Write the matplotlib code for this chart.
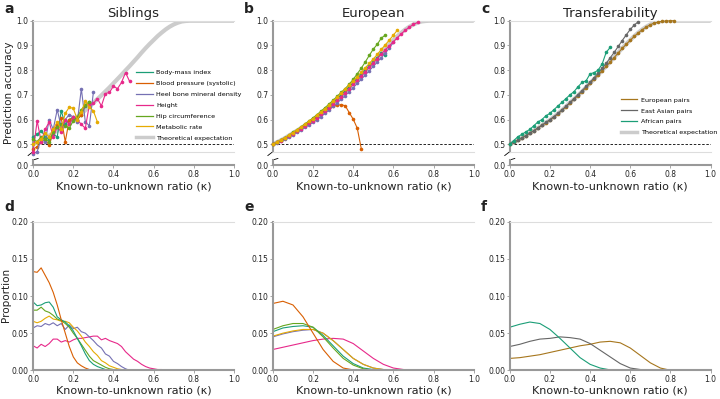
"""Prediction accuracy vs known-to-unknown ratio, with kappa distributions below."""
import numpy as np
import matplotlib
matplotlib.use("Agg")
import matplotlib.pyplot as plt
from matplotlib.lines import Line2D

# ---- data ----
THEORY = [0.500, 0.508, 0.516, 0.525, 0.535, 0.545, 0.555, 0.565, 0.576, 0.587,
          0.598, 0.611, 0.624, 0.638, 0.653, 0.668, 0.683, 0.698, 0.714, 0.730,
          0.747, 0.764, 0.781, 0.799, 0.816, 0.834, 0.852, 0.871, 0.889, 0.906,
          0.922, 0.938, 0.952, 0.965, 0.976, 0.985, 0.992, 0.997, 0.999, 1.0,
          1.0, 1.0, 1.0, 1.0, 1.0, 1.0, 1.0, 1.0, 1.0, 1.0, 1.0]

TRAITS = ["Body-mass index", "Blood pressure (systolic)", "Heel bone mineral density",
          "Height", "Hip circumference", "Metabolic rate"]
TRAIT_COLORS = ["#1b9e77", "#d95f02", "#7570b3", "#e7298a", "#66a61e", "#e6ab02"]

# panel a: siblings, kappa step 0.02
SIB_BMI = [0.53, 0.54, 0.555, 0.53, 0.52, 0.54, 0.53, 0.635, 0.58, 0.60, 0.61, 0.60, 0.62, 0.655, 0.67]
SIB_BP = [0.48, 0.49, 0.51, 0.52, 0.495, 0.55, 0.58, 0.605, 0.51, 0.60, 0.605, 0.60, 0.62, 0.66, 0.665]
SIB_HEEL = [0.46, 0.47, 0.52, 0.51, 0.60, 0.56, 0.64, 0.57, 0.60, 0.62, 0.61, 0.59, 0.725, 0.59, 0.575, 0.71]
SIB_HEIGHT = [0.47, 0.595, 0.51, 0.56, 0.59, 0.53, 0.57, 0.55, 0.60, 0.58, 0.61, 0.60, 0.58,
              0.565, 0.66, 0.665, 0.685, 0.655, 0.705, 0.71, 0.735, 0.725, 0.75, 0.79, 0.755]
SIB_HIP = [0.52, 0.51, 0.53, 0.52, 0.51, 0.55, 0.57, 0.58, 0.575, 0.565, 0.595, 0.61, 0.64, 0.66, 0.67]
SIB_MET = [0.50, 0.51, 0.52, 0.545, 0.53, 0.56, 0.59, 0.56, 0.625, 0.65, 0.645, 0.60, 0.63,
           0.675, 0.65, 0.635, 0.59]

# panel b: European, kappa step 0.02
EUR_BMI = [0.500, 0.508, 0.516, 0.525, 0.535, 0.545, 0.555, 0.566, 0.577, 0.588, 0.600, 0.612,
           0.625, 0.639, 0.654, 0.669, 0.684, 0.700, 0.716, 0.732, 0.749, 0.766, 0.783, 0.800,
           0.817, 0.832, 0.850, 0.870, 0.860]
EUR_BP = [0.500, 0.508, 0.516, 0.525, 0.535, 0.545, 0.555, 0.565, 0.576, 0.587, 0.598, 0.610,
          0.622, 0.634, 0.645, 0.653, 0.658, 0.660, 0.656, 0.628, 0.601, 0.565, 0.482]
EUR_HEEL = [0.500, 0.506, 0.513, 0.521, 0.530, 0.539, 0.548, 0.558, 0.568, 0.578, 0.589, 0.600,
            0.612, 0.625, 0.639, 0.653, 0.667, 0.682, 0.697, 0.713, 0.729, 0.746, 0.763, 0.780,
            0.798, 0.815, 0.833, 0.851, 0.869, 0.890, 0.912]
EUR_HEIGHT = [0.500, 0.507, 0.515, 0.524, 0.533, 0.543, 0.553, 0.563, 0.574, 0.585, 0.596, 0.608,
              0.621, 0.634, 0.648, 0.663, 0.678, 0.693, 0.709, 0.725, 0.742, 0.759, 0.776, 0.794,
              0.811, 0.829, 0.847, 0.865, 0.883, 0.899, 0.915, 0.932, 0.948, 0.962, 0.975, 0.985,
              0.993]
EUR_HIP = [0.500, 0.508, 0.517, 0.527, 0.537, 0.548, 0.559, 0.570, 0.582, 0.594, 0.607, 0.620,
           0.634, 0.648, 0.663, 0.678, 0.694, 0.710, 0.725, 0.743, 0.763, 0.785, 0.808, 0.833,
           0.860, 0.885, 0.905, 0.930, 0.942]
EUR_MET = [0.500, 0.509, 0.518, 0.527, 0.537, 0.547, 0.558, 0.569, 0.580, 0.592, 0.604, 0.617,
           0.630, 0.644, 0.659, 0.674, 0.690, 0.706, 0.722, 0.739, 0.756, 0.773, 0.791, 0.809,
           0.827, 0.845, 0.864, 0.884, 0.903, 0.922, 0.942, 0.962]

# panel c: transferability, kappa step 0.02
POPS = ["European pairs", "East Asian pairs", "African pairs"]
POP_COLORS = ["#a6761d", "#666666", "#1b9e77"]
TR_EUR = [0.500, 0.508, 0.516, 0.525, 0.535, 0.545, 0.555, 0.565, 0.576, 0.587, 0.598, 0.610,
          0.623, 0.637, 0.652, 0.667, 0.682, 0.697, 0.713, 0.729, 0.746, 0.763, 0.780, 0.798,
          0.815, 0.833, 0.851, 0.870, 0.888, 0.905, 0.921, 0.937, 0.951, 0.964, 0.975, 0.984,
          0.991, 0.995, 0.998, 0.999, 1.0, 1.0]
TR_EAS = [0.500, 0.508, 0.516, 0.525, 0.535, 0.545, 0.555, 0.566, 0.577, 0.588, 0.600, 0.612,
          0.625, 0.639, 0.654, 0.669, 0.685, 0.701, 0.717, 0.734, 0.751, 0.769, 0.788, 0.808,
          0.828, 0.850, 0.872, 0.896, 0.920, 0.943, 0.965, 0.983, 0.996]
TR_AFR = [0.500, 0.515, 0.530, 0.540, 0.550, 0.560, 0.575, 0.590, 0.600, 0.615, 0.625, 0.640,
          0.655, 0.670, 0.685, 0.700, 0.713, 0.733, 0.750, 0.757, 0.785, 0.790, 0.800, 0.825,
          0.872, 0.892]

# panel d: siblings kappa distribution, step 0.02
D_BMI = [0.092, 0.087, 0.088, 0.091, 0.092, 0.085, 0.072, 0.068, 0.065, 0.060, 0.053, 0.043,
         0.033, 0.022, 0.013, 0.008, 0.005, 0.003, 0.001, 0.0, 0.0]
D_BP = [0.133, 0.132, 0.138, 0.128, 0.118, 0.105, 0.088, 0.068, 0.050, 0.032, 0.018, 0.010,
        0.006, 0.003, 0.001, 0.0005, 0.0, 0.0]
D_HEEL = [0.057, 0.060, 0.059, 0.063, 0.061, 0.064, 0.060, 0.063, 0.055, 0.061, 0.056, 0.058,
          0.052, 0.050, 0.045, 0.040, 0.034, 0.030, 0.022, 0.019, 0.012, 0.009, 0.005, 0.002, 0.0]
D_HEIGHT = [0.033, 0.030, 0.035, 0.032, 0.036, 0.042, 0.042, 0.038, 0.040, 0.038, 0.041, 0.043,
            0.043, 0.044, 0.045, 0.046, 0.046, 0.041, 0.043, 0.040, 0.038, 0.036, 0.032, 0.025,
            0.020, 0.015, 0.012, 0.008, 0.005, 0.003, 0.002, 0.001, 0.001, 0.0]
D_HIP = [0.081, 0.081, 0.085, 0.080, 0.078, 0.074, 0.069, 0.067, 0.063, 0.058, 0.050, 0.043,
         0.035, 0.027, 0.019, 0.013, 0.010, 0.007, 0.004, 0.002, 0.001, 0.0]
D_MET = [0.066, 0.064, 0.066, 0.070, 0.073, 0.069, 0.068, 0.066, 0.066, 0.064, 0.058, 0.053,
         0.046, 0.038, 0.032, 0.025, 0.020, 0.013, 0.010, 0.006, 0.004, 0.002, 0.001, 0.0]

# panel e: European kappa distribution, step 0.05
E_BMI = [0.052, 0.057, 0.059, 0.060, 0.058, 0.047, 0.033, 0.019, 0.009, 0.003, 0.001, 0.0]
E_BP = [0.090, 0.093, 0.088, 0.072, 0.050, 0.028, 0.012, 0.003, 0.0005, 0.0]
E_HEEL = [0.045, 0.049, 0.052, 0.054, 0.055, 0.050, 0.040, 0.028, 0.016, 0.008, 0.003, 0.001, 0.0]
E_HEIGHT = [0.028, 0.031, 0.034, 0.037, 0.040, 0.042, 0.043, 0.042, 0.036, 0.026, 0.016, 0.008,
            0.003, 0.001, 0.0]
E_HIP = [0.055, 0.060, 0.063, 0.063, 0.058, 0.045, 0.030, 0.016, 0.007, 0.002, 0.0]
E_MET = [0.046, 0.050, 0.053, 0.055, 0.055, 0.050, 0.040, 0.028, 0.016, 0.008, 0.003, 0.001, 0.0]

# panel f: transferability kappa distribution, step 0.05
F_EUR = [0.016, 0.017, 0.019, 0.021, 0.024, 0.027, 0.030, 0.033, 0.035, 0.038, 0.039, 0.037,
         0.030, 0.020, 0.010, 0.003, 0.0]
F_EAS = [0.032, 0.035, 0.039, 0.042, 0.043, 0.045, 0.044, 0.042, 0.036, 0.027, 0.018, 0.009,
         0.003, 0.001, 0.0]
F_AFR = [0.058, 0.062, 0.065, 0.063, 0.055, 0.043, 0.030, 0.017, 0.008, 0.003, 0.0005]

XLABEL = "Known-to-unknown ratio (\u03ba)"
SPINE = "#999999"
LIGHT = "#dddddd"
TXT = "#222222"

plt.rcParams["font.family"] = "DejaVu Sans"
fig = plt.figure(figsize=(7.2, 3.99), dpi=100)

LEFTS = [0.046, 0.379, 0.708]
W = 0.279


def kappa(vals, step):
    return np.arange(len(vals)) * step


def style_ticks(ax):
    ax.tick_params(labelsize=5.5, colors=TXT, length=2, width=0.6, pad=1.2)
    ax.tick_params(axis="both", color=SPINE)


def top_panel(left, title, letter):
    ax = fig.add_axes([left, 0.620, W, 0.328])
    axb = fig.add_axes([left, 0.586, W, 0.013])
    ax.set_xlim(0, 1)
    axb.set_xlim(0, 1)
    ax.set_ylim(0.47, 1.0)
    axb.set_ylim(0, 0.03)
    ax.set_yticks([0.5, 0.6, 0.7, 0.8, 0.9, 1.0])
    ax.set_xticks([])
    axb.set_yticks([0.0])
    axb.set_yticklabels(["0.0"])
    axb.set_xticks([0, 0.2, 0.4, 0.6, 0.8, 1.0])
    axb.set_xticklabels(["0.0", "0.2", "0.4", "0.6", "0.8", "1.0"])
    for a in (ax, axb):
        style_ticks(a)
        a.spines["right"].set_visible(False)
        a.spines["left"].set_color(SPINE)
        a.spines["left"].set_linewidth(1.5)
    ax.spines["top"].set_color(LIGHT)
    ax.spines["bottom"].set_color(LIGHT)
    ax.spines["top"].set_linewidth(0.8)
    ax.spines["bottom"].set_linewidth(0.8)
    axb.spines["top"].set_visible(False)
    axb.spines["bottom"].set_color(SPINE)
    axb.spines["bottom"].set_linewidth(1.5)
    # break marks
    ax.plot([-0.025, 0.0], [-0.03, 0.0], transform=ax.transAxes, color="k", lw=0.6, clip_on=False)
    axb.plot([0.0, 0.025], [1.0, 1.3], transform=axb.transAxes, color="k", lw=0.6, clip_on=False)
    ax.axhline(0.5, color="k", ls=(0, (3, 2)), lw=0.6, zorder=1)
    ax.plot(kappa(THEORY, 0.02), THEORY, color="#cccccc", lw=3, zorder=1, solid_capstyle="butt")
    axb.set_xlabel(XLABEL, fontsize=8, color=TXT, labelpad=2)
    ax.set_title(title, fontsize=9.5, color=TXT, pad=3)
    fig.text(left - 0.04, 0.978, letter, fontsize=10, fontweight="bold", color=TXT,
             ha="left", va="center")
    return ax


def bottom_panel(left, letter):
    ax = fig.add_axes([left, 0.072, W, 0.372])
    ax.set_xlim(0, 1)
    ax.set_ylim(0, 0.20)
    ax.set_yticks([0.0, 0.05, 0.10, 0.15, 0.20])
    ax.set_yticklabels(["0.00", "0.05", "0.10", "0.15", "0.20"])
    ax.set_xticks([0, 0.2, 0.4, 0.6, 0.8, 1.0])
    ax.set_xticklabels(["0.0", "0.2", "0.4", "0.6", "0.8", "1.0"])
    style_ticks(ax)
    ax.spines["right"].set_visible(False)
    ax.spines["top"].set_color(LIGHT)
    ax.spines["top"].set_linewidth(0.8)
    for s in ("left", "bottom"):
        ax.spines[s].set_color(SPINE)
        ax.spines[s].set_linewidth(1.5)
    ax.set_xlabel(XLABEL, fontsize=8, color=TXT, labelpad=1)
    fig.text(left - 0.04, 0.48, letter, fontsize=10, fontweight="bold", color=TXT,
             ha="left", va="center")
    return ax


def dots(ax, vals, color):
    ax.plot(kappa(vals, 0.02), vals, color=color, lw=0.8, marker="o", ms=2.6,
            markeredgewidth=0, zorder=3, clip_on=False)


# ---- a: siblings ----
ax_a = top_panel(LEFTS[0], "Siblings", "a")
for vals, c in zip([SIB_BMI, SIB_BP, SIB_HEEL, SIB_HEIGHT, SIB_HIP, SIB_MET], TRAIT_COLORS):
    dots(ax_a, vals, c)
handles = [Line2D([], [], color=c, lw=0.9) for c in TRAIT_COLORS]
handles.append(Line2D([], [], color="#cccccc", lw=2.5))
ax_a.legend(handles, TRAITS + ["Theoretical expectation"], loc="lower left",
            bbox_to_anchor=(0.49, 0.05), fontsize=4.6, frameon=False, handlelength=2.6,
            handletextpad=0.6, labelspacing=0.85, borderpad=0.2)
fig.text(0.012, 0.767, "Prediction accuracy", rotation=90, fontsize=7.5, color=TXT,
         ha="center", va="center")

# ---- b: European ----
ax_b = top_panel(LEFTS[1], "European", "b")
for vals, c in zip([EUR_BMI, EUR_BP, EUR_HEEL, EUR_HEIGHT, EUR_HIP, EUR_MET], TRAIT_COLORS):
    dots(ax_b, vals, c)

# ---- c: transferability ----
ax_c = top_panel(LEFTS[2], "Transferability", "c")
for vals, c in zip([TR_EUR, TR_EAS, TR_AFR], POP_COLORS):
    dots(ax_c, vals, c)
handles = [Line2D([], [], color=c, lw=0.9) for c in POP_COLORS]
handles.append(Line2D([], [], color="#cccccc", lw=2.5))
ax_c.legend(handles, POPS + ["Theoretical expectation"], loc="lower left",
            bbox_to_anchor=(0.53, 0.09), fontsize=4.6, frameon=False, handlelength=2.6,
            handletextpad=0.6, labelspacing=0.85, borderpad=0.2)

# ---- d, e, f: distributions ----
ax_d = bottom_panel(LEFTS[0], "d")
for vals, c in zip([D_HEIGHT, D_HEEL, D_MET, D_HIP, D_BMI, D_BP],
                   [TRAIT_COLORS[3], TRAIT_COLORS[2], TRAIT_COLORS[5], TRAIT_COLORS[4],
                    TRAIT_COLORS[0], TRAIT_COLORS[1]]):
    ax_d.plot(kappa(vals, 0.02), vals, color=c, lw=0.8)
fig.text(0.009, 0.26, "Proportion", rotation=90, fontsize=7.5, color=TXT,
         ha="center", va="center")

ax_e = bottom_panel(LEFTS[1], "e")
for vals, c in zip([E_HEIGHT, E_HEEL, E_MET, E_BMI, E_HIP, E_BP],
                   [TRAIT_COLORS[3], TRAIT_COLORS[2], TRAIT_COLORS[5], TRAIT_COLORS[0],
                    TRAIT_COLORS[4], TRAIT_COLORS[1]]):
    ax_e.plot(kappa(vals, 0.05), vals, color=c, lw=0.8)

ax_f = bottom_panel(LEFTS[2], "f")
for vals, c in zip([F_EUR, F_EAS, F_AFR], POP_COLORS):
    ax_f.plot(kappa(vals, 0.05), vals, color=c, lw=0.8)

fig.savefig("out.png", dpi=100)
